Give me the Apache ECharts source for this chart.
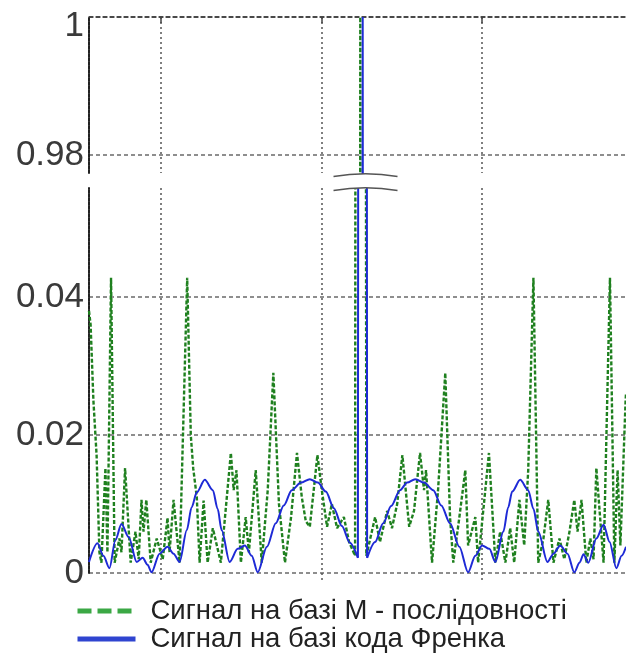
<!DOCTYPE html>
<html><head><meta charset="utf-8">
<style>html,body{margin:0;padding:0;background:#fff}#chart{width:626px;height:655px}</style>
<script src="https://cdn.jsdelivr.net/npm/echarts@6.0.0/dist/echarts.min.js"></script>
</head><body><div id="chart"></div>
<script>
// ---- data ----
const seriesNames = ['Сигнал на базі М - послідовності', 'Сигнал на базі кода Френка'];

const mSeqLag = [-68, -67.6, -66.9, -66.1, -65.4, -64.9, -63.9, -63.4, -62.5, -61.6, -60.4, -59.9, -59, -57.6, -56.4, -55.6, -54.9, -54.4, -53.7, -52.6, -51.1, -49.6, -48.4, -47.9, -46.9, -45.4, -43.5, -42.6, -42, -41.1, -40.4, -39.4, -38.4, -37.1, -36.1, -35.1, -32.6, -31.9, -31.2, -30.1, -28.9, -28.1, -26.4, -24.9, -23.4, -22, -20.6, -19.1, -17.6, -16.1, -14.9, -13.9, -12.9, -11, -9.9, -8.6, -7.4, -6.1, -4.4, -3.1, -1.6, -0.3, 1.2, 3.4, 4.6, 6.4, 7.6, 8.9, 10.2, 11.9, 13.1, 14.6, 15.6, 16.1, 17.6, 19.1, 20.9, 22.1, 22.9, 24.4, 25.9, 26.6, 28.4, 29.1, 31.8, 33.4, 34.6, 35.9, 37.1, 38.1, 39.4, 40.6, 41.6, 42.9, 44.1, 45.4, 46.6, 47.9, 49.4, 50.6, 51.9, 53.1, 53.9, 54.9, 56.1, 57.1, 57.9, 58.6, 60.4, 62, 63.1, 63.9, 64.6, 65.9, 66];
const mSeqLevel = [0.038, 0.036, 0.025, 0.017, 0.003, 0.0015, 0.0152, 0.003, 0.0428, 0.0015, 0.005, 0.003, 0.0152, 0.0015, 0.006, 0.002, 0.0106, 0.006, 0.0106, 0.0015, 0.005, 0.002, 0.008, 0.003, 0.0106, 0.0015, 0.0428, 0.02, 0.0152, 0.011, 0.0015, 0.0105, 0.0015, 0.0065, 0.004, 0.0015, 0.0174, 0.012, 0.0149, 0.0015, 0.0081, 0.003, 0.0149, 0.0015, 0.012, 0.029, 0.01, 0.0015, 0.008, 0.0174, 0.011, 0.0075, 0.0067, 0.0171, 0.012, 0.0067, 0.01, 0.0065, 0.0081, 0.0045, 0.0025, 1, 0.0025, 0.0081, 0.0045, 0.009, 0.0065, 0.01, 0.0171, 0.0067, 0.009, 0.0174, 0.012, 0.0149, 0.0015, 0.012, 0.029, 0.008, 0.0015, 0.008, 0.0149, 0.004, 0.0081, 0.0015, 0.0174, 0.0015, 0.006, 0.0015, 0.0065, 0.0015, 0.0106, 0.004, 0.0149, 0.0428, 0.0015, 0.005, 0.0106, 0.0015, 0.005, 0.002, 0.006, 0.0106, 0.006, 0.0106, 0.0015, 0.005, 0.002, 0.0152, 0.0015, 0.0428, 0.0015, 0.0149, 0.004, 0.025, 0.026];

const frankLag = [-68, -65.9, -64.4, -62.9, -61.4, -59.9, -58.1, -56.1, -54.6, -53.4, -52.4, -50.4, -48.4, -46.9, -45.4, -43.6, -42.4, -41.1, -39.1, -37.1, -35.9, -34.9, -32.9, -30.9, -29.1, -27.4, -25.9, -23.6, -21.4, -19.4, -17.4, -15.1, -12.9, -10.9, -8.9, -6.9, -4.9, -2.9, -0.9, 0.3, 1.4, 3.4, 5.4, 7.4, 9.6, 11.4, 13.4, 15.6, 17.9, 19.9, 22.1, 24.4, 26.6, 28.4, 30.1, 31.9, 33.4, 35.4, 36.6, 37.6, 39.6, 41.6, 42.9, 44.1, 46.4, 47.9, 49.6, 51.4, 53.1, 54.4, 55.4, 56.6, 58.6, 60.4, 61.9, 63.6, 64.9, 66];
const frankLevel = [0.0016, 0.0043, 0.0025, 0.0007, 0.0048, 0.0071, 0.0052, 0.0016, 0.0022, 0.0012, 0.0001, 0.0028, 0.0038, 0.0028, 0.0016, 0.0062, 0.0095, 0.0117, 0.0135, 0.012, 0.0093, 0.0062, 0.0016, 0.0035, 0.004, 0.0025, 0.0001, 0.0038, 0.0072, 0.0098, 0.012, 0.0131, 0.0136, 0.0131, 0.0118, 0.0094, 0.0068, 0.0044, 0.0022, 1, 0.0022, 0.0045, 0.0072, 0.0097, 0.012, 0.0131, 0.0136, 0.0131, 0.012, 0.0098, 0.0072, 0.0038, 0.0001, 0.0025, 0.004, 0.0035, 0.0016, 0.006, 0.0095, 0.0118, 0.0135, 0.012, 0.0093, 0.006, 0.0016, 0.0028, 0.004, 0.0028, 0.0001, 0.0015, 0.0027, 0.0015, 0.005, 0.007, 0.0045, 0.0007, 0.0025, 0.0038];

const xTicks = [-50, -10, 30];
const yTicksUpper = [0.98, 1];
const yTicksLower = [0, 0.02, 0.04];
const xRange = [-68, 66];
const upperRange = [0.9774, 1];
const lowerRange = [0, 0.0558];

// ---- chart ----
const zip = (a, b) => a.map((v, i) => [v, b[i]]);
const mSeqData = zip(mSeqLag, mSeqLevel);
const frankData = zip(frankLag, frankLevel);
// split the Frank curve at its main pulse so the side lobes can be drawn smooth
const peakIdx = frankLevel.indexOf(Math.max(...frankLevel));
const frankLeft = frankData.slice(0, peakIdx);
const frankPulse = frankData.slice(peakIdx - 1, peakIdx + 2);
const frankRight = frankData.slice(peakIdx + 1);

const FONT = '"Liberation Sans", Arial, sans-serif';
const GREEN = '#1f801f';
const BLUE = '#1e2ad6';

const hGrid = { show: true, lineStyle: { color: '#6a6a6a', width: 1.5, type: [4, 3] } };
const vGrid = { show: true, lineStyle: { color: '#555', width: 1.5, type: [2, 3] } };
const yLine = { show: true, onZero: false, lineStyle: { color: '#222', width: 2, type: [3, 1] } };
const labelBase = { fontSize: 35, color: '#3a3a3a', fontFamily: FONT, margin: 5 };
const greenLine = { color: GREEN, width: 2.4, type: [4, 2] };
const blueLine = { color: BLUE, width: 2 };

const chart = echarts.init(document.getElementById('chart'), null, { renderer: 'canvas' });

const grids = [
  { left: 89, right: 0, top: 17, height: 156 },
  { left: 89, right: 0, top: 188, height: 385 }
];

function frankSeries(ax, data, smooth) {
  return { name: seriesNames[1], type: 'line', xAxisIndex: ax, yAxisIndex: ax, data: data, symbol: 'none',
    color: BLUE, lineStyle: blueLine, clip: true, smooth: smooth, smoothMonotone: 'x', z: 3 };
}

const option = {
  animation: false,
  backgroundColor: '#fff',
  grid: grids,
  xAxis: [
    {
      gridIndex: 0, type: 'value', position: 'top', min: xRange[0], max: xRange[1],
      axisLine: { show: true, onZero: false, lineStyle: { color: '#333', width: 1.5, type: [4, 3] } },
      axisTick: { show: true, inside: true, length: 6, customValues: xTicks, lineStyle: { color: '#444', width: 1.5 } },
      axisLabel: { show: false, customValues: xTicks },
      splitLine: vGrid
    },
    {
      gridIndex: 1, type: 'value', position: 'bottom', min: xRange[0], max: xRange[1],
      axisLine: { show: false, onZero: false },
      axisTick: { show: true, inside: false, length: 9, customValues: xTicks, lineStyle: { color: '#555', width: 1.5, type: [2, 3] } },
      axisLabel: { show: false, customValues: xTicks },
      splitLine: vGrid
    }
  ],
  yAxis: [
    {
      gridIndex: 0, type: 'value', min: upperRange[0], max: upperRange[1],
      axisLine: yLine, axisTick: { show: false, customValues: yTicksUpper },
      axisLabel: Object.assign({}, labelBase, {
        customValues: yTicksUpper,
        formatter: v => v === 1 ? '{t|1}' : v.toFixed(2),
        rich: { t: { fontSize: 35, color: '#3a3a3a', fontFamily: FONT, padding: [18, 0, 0, 0] } }
      }),
      splitLine: hGrid
    },
    {
      gridIndex: 1, type: 'value', min: lowerRange[0], max: lowerRange[1],
      axisLine: yLine, axisTick: { show: false, customValues: yTicksLower },
      axisLabel: Object.assign({}, labelBase, {
        customValues: yTicksLower,
        formatter: v => v === 0 ? '0' : v.toFixed(2)
      }),
      splitLine: hGrid
    }
  ],
  legend: {
    orient: 'vertical', left: 75, top: 597, padding: 0, itemGap: 0,
    itemWidth: 58, itemHeight: 14,
    textStyle: { fontSize: 27.5, color: '#222', fontFamily: FONT, padding: [0, 0, 0, 10] },
    data: [
      { name: seriesNames[0], itemStyle: { opacity: 0 }, lineStyle: { width: 5, color: '#3ba845', type: [14, 6] } },
      { name: seriesNames[1], itemStyle: { opacity: 0 }, lineStyle: { width: 5, color: '#2f44d0', type: 'solid' } }
    ]
  },
  series: [
    { name: seriesNames[0], type: 'line', xAxisIndex: 0, yAxisIndex: 0, data: mSeqData, symbol: 'none', color: GREEN, lineStyle: greenLine, clip: true, z: 2 },
    frankSeries(0, frankPulse, false),
    { name: seriesNames[0], type: 'line', xAxisIndex: 1, yAxisIndex: 1, data: mSeqData, symbol: 'none', color: GREEN, lineStyle: greenLine, clip: true, z: 2 },
    frankSeries(1, frankLeft, 0.3),
    frankSeries(1, frankPulse, false),
    frankSeries(1, frankRight, 0.3)
  ]
};
chart.setOption(option);

// axis-break marks at the centre pulse, positioned through the axis scale
const centre = chart.convertToPixel({ xAxisIndex: 1, yAxisIndex: 1 }, [0, 0]);
const cx = centre[0] + 3;
const upperBottom = grids[0].top + grids[0].height;
const lowerTop = grids[1].top;
const arc = (y) => ({
  type: 'bezierCurve', silent: true, z: 100,
  shape: { x1: cx - 31, y1: y + 2.5, x2: cx + 33, y2: y + 2.5, cpx1: cx + 1, cpy1: y - 3 },
  style: { stroke: '#555', lineWidth: 1.5, fill: null }
});
chart.setOption({
  graphic: [
    { type: 'rect', silent: true, z: 99, shape: { x: cx - 34, y: upperBottom + 1, width: 70, height: lowerTop - upperBottom - 1 }, style: { fill: '#fff' } },
    arc(upperBottom + 1),
    arc(lowerTop)
  ]
});
</script></body></html>
